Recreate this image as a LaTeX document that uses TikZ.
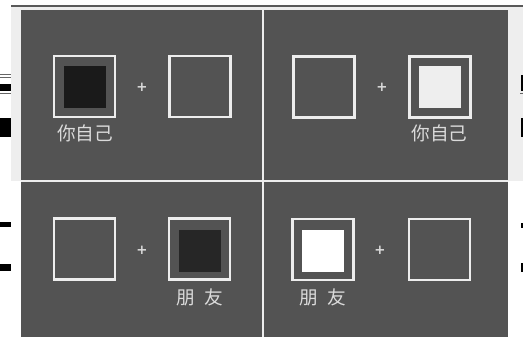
\documentclass[tikz,border=0pt]{standalone}
\usepackage{fontspec}
\newfontfamily\cjk{Noto Sans CJK SC}
\newfontfamily\plusfont{DejaVu Sans}
\definecolor{panel}{HTML}{535353}
\definecolor{boxline}{HTML}{EDEDED}
\definecolor{lighten}{HTML}{EEEEEE}
\definecolor{labelc}{HTML}{DADADA}
\definecolor{darkfill}{HTML}{1A1A1A}
\definecolor{darkfillb}{HTML}{262626}
\begin{document}
\begin{tikzpicture}[x=0.75pt,y=-0.75pt,
  outerbox/.style={draw=boxline, line width=1.6pt, minimum size=45.8pt, inner sep=0pt},
  innerbox/.style={minimum size=31.5pt, inner sep=0pt},
  plussign/.style={text=labelc, font=\plusfont\bfseries\fontsize{10}{10}\selectfont, inner sep=0pt},
  lbl/.style={text=labelc, font=\cjk\fontsize{14}{14}\selectfont, inner sep=0pt},
  edgemark/.style={fill=black, draw=none},
  thinmark/.style={draw=black!60, line width=0.7pt}]
\useasboundingbox (0,0) rectangle (523,337);
\fill[white] (0,0) rectangle (523,337);
% light backing strip and top rule
\fill[lighten] (11,6) rectangle (523,181);
\draw[black!65, line width=0.8pt] (11,6) -- (523,6);
% panel
\fill[panel] (21,9.5) rectangle (508,337);
\draw[boxline, line width=1.5pt] (21,181) -- (508,181);
\draw[boxline, line width=1.5pt] (262.5,9.5) -- (262.5,337);
% edge marks (left)
\draw[thinmark] (0,74) -- (11,74);
\draw[thinmark] (0,77.5) -- (11,77.5);
\fill[edgemark] (0,84) rectangle (11,91);
\draw[thinmark] (0,93) -- (11,93);
\fill[edgemark] (0,118) rectangle (11,137);
\fill[edgemark] (0,222) rectangle (11,227);
\fill[edgemark] (0,264) rectangle (11,271);
% edge marks (right)
\fill[edgemark] (521,75) rectangle (523,91);
\draw[thinmark] (520,93) -- (523,93);
\fill[edgemark] (521,118) rectangle (523,137);
\fill[edgemark] (521,223) rectangle (523,228);
\fill[edgemark] (521,263) rectangle (523,272);
% top-left
\node[innerbox, fill=darkfill] (tlin) at (84.5,86.5) {};
\node[outerbox] (tl1) at (84.5,86.5) {};
\node[plussign] (tlp) at (142,87) {+};
\node[outerbox] (tl2) at (200,86.5) {};
\node[lbl] (tll) at (85,133) {你自己};
% top-right
\node[outerbox] (tr1) at (324,87) {};
\node[plussign] (trp) at (382,87) {+};
\node[innerbox, fill=lighten] (trin) at (440,86.5) {};
\node[outerbox] (tr2) at (440,87) {};
\node[lbl] (trl) at (439.5,133) {你自己};
% bottom-left
\node[outerbox] (bl1) at (84.5,249) {};
\node[plussign] (blp) at (142,250) {+};
\node[innerbox, fill=darkfillb] (blin) at (199.5,250.5) {};
\node[outerbox] (bl2) at (199.5,249) {};
\node[lbl] (bll) at (200,297.5) {朋\hspace{0.5em}友};
% bottom-right
\node[innerbox, fill=white] (brin) at (323,250.5) {};
\node[outerbox] (br1) at (323,249.5) {};
\node[plussign] (brp) at (380,250) {+};
\node[outerbox] (br2) at (439.5,249.5) {};
\node[lbl] (brl) at (323,297.5) {朋\hspace{0.5em}友};
\end{tikzpicture}
\end{document}
